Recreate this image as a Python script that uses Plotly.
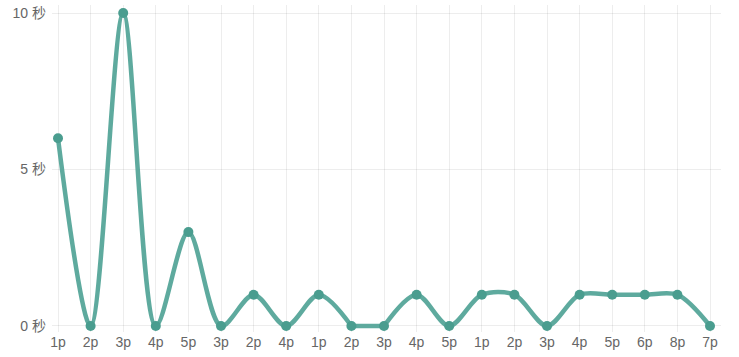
import plotly.graph_objects as go

labels = ["1p", "2p", "3p", "4p", "5p", "3p", "2p", "4p", "1p", "2p", "3p",
          "4p", "5p", "1p", "2p", "3p", "4p", "5p", "6p", "8p", "7p"]
values = [6, 0, 10, 0, 3, 0, 1, 0, 1, 0, 0, 1, 0, 1, 1, 0, 1, 1, 1, 1, 0]
y_ticks = [0, 5, 10]
y_tick_text = ["0 秒", "5 秒", "10 秒"]

idx = list(range(len(labels)))
line_color = "rgba(80,163,150,0.92)"
marker_color = "#4a9d8f"

# split the curve where it runs flat along the axis floor (curve is clamped there)
floor = min(values)
pieces = []
start = 0
for i in range(len(values) - 1):
    if values[i] == floor and values[i + 1] == floor:
        pieces.append(("spline", start, i))
        pieces.append(("linear", i, i + 1))
        start = i + 1
pieces.append(("spline", start, len(values) - 1))

fig = go.Figure()
for shape, a, b in pieces:
    if b <= a:
        continue
    fig.add_trace(go.Scatter(
        x=idx[a:b + 1], y=values[a:b + 1], mode="lines",
        line=dict(color=line_color, width=4.5, shape=shape, smoothing=0.9),
        hoverinfo="skip",
    ))
fig.add_trace(go.Scatter(
    x=idx, y=values, mode="markers",
    marker=dict(color=marker_color, size=10, line=dict(width=0)),
    cliponaxis=False, hoverinfo="skip",
))

font_family = "Liberation Sans, Noto Sans CJK SC, sans-serif"
fig.update_layout(
    width=739, height=357,
    margin=dict(l=52, r=18, t=5, b=25, pad=0, autoexpand=False),
    paper_bgcolor="white", plot_bgcolor="white",
    showlegend=False,
    font=dict(family=font_family, size=14, color="#666666"),
)
fig.update_xaxes(
    range=[-0.184, 20.337], tickmode="array", tickvals=idx, ticktext=labels,
    showgrid=True, gridcolor="rgba(0,0,0,0.07)", gridwidth=1,
    zeroline=False, ticks="", showline=False, tickangle=0, automargin=False,
    ticklabeloverflow="allow",
)
fig.update_yaxes(
    range=[-0.192, 10.256], tickmode="array", tickvals=y_ticks, ticktext=y_tick_text,
    showgrid=True, gridcolor="rgba(0,0,0,0.07)", gridwidth=1,
    zeroline=False, ticks="", showline=False, automargin=False,
    ticklabeloverflow="allow", ticklabelstandoff=5,
)
fig.write_html(
    "out.html",
    config={"displayModeBar": False, "staticPlot": True},
    post_script="document.body.style.margin='0';document.body.style.overflow='hidden';",
)
